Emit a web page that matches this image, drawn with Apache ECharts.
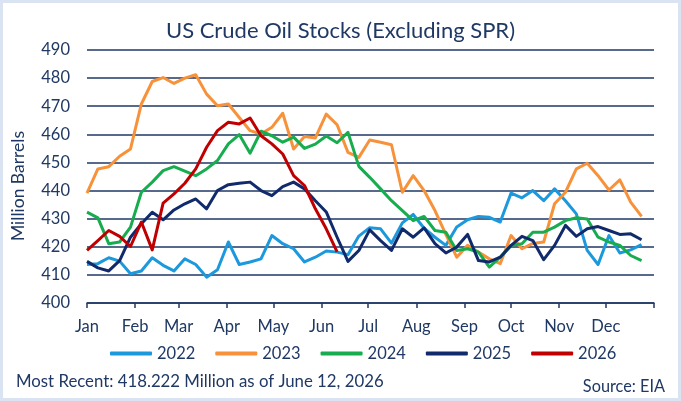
<!DOCTYPE html>
<html>
<head>
<meta charset="utf-8">
<script src="https://cdn.jsdelivr.net/npm/echarts@6/dist/echarts.min.js"></script>
<style>
  html, body { margin: 0; padding: 0; background: #fff; }
  #chart { width: 681px; height: 401px; }
</style>
</head>
<body>
<div id="chart"></div>
<script>
// ---------------------------------------------------------------------------
// Data (weekly stocks, million barrels, one point per week from Jan 1)
// ---------------------------------------------------------------------------
const monthStarts = [0, 31, 59, 90, 120, 151, 181, 212, 243, 273, 304, 334];
const monthLabels = ['Jan', 'Feb', 'Mar', 'Apr', 'May', 'Jun', 'Jul', 'Aug', 'Sep', 'Oct', 'Nov', 'Dec'];
const yTicks = [400, 410, 420, 430, 440, 450, 460, 470, 480, 490];

const years = ['2022', '2023', '2024', '2025', '2026'];

const s2022 = [413.7, 414.0, 416.1, 414.9, 410.4, 411.4, 416.1, 413.4, 411.4, 415.7,
  413.7, 409.2, 411.8, 421.7, 413.7, 414.6, 415.7, 424.0, 421.1, 419.3,
  414.6, 416.3, 418.5, 418.1, 417.2, 423.8, 426.8, 426.4, 421.3, 428.5,
  431.5, 426.6, 423.4, 420.5, 427.0, 429.6, 430.8, 430.5, 428.8, 439.1,
  437.4, 440.0, 436.4, 440.6, 436.4, 431.7, 418.7, 413.7, 424.0, 417.8,
  418.9, 420.8];
const s2023 = [439.1, 447.7, 448.5, 452.2, 454.8, 470.8, 478.8, 480.2, 478.1, 480.0,
  481.2, 474.3, 470.2, 470.8, 466.0, 461.3, 460.1, 462.5, 467.5, 454.8,
  459.2, 458.7, 467.2, 463.4, 453.6, 451.8, 458.0, 457.2, 456.3, 439.4,
  445.3, 440.0, 432.9, 424.4, 416.3, 420.5, 418.1, 415.7, 414.0, 424.0,
  419.3, 421.2, 421.7, 435.3, 439.4, 447.7, 449.7, 445.3, 440.2, 443.8,
  435.9, 430.8];
const s2024 = [432.3, 430.3, 421.1, 421.7, 427.0, 439.4, 443.0, 447.1, 448.5, 446.9,
  445.3, 447.7, 450.7, 456.6, 459.9, 453.3, 461.1, 459.5, 457.2, 459.0,
  455.0, 456.5, 459.4, 457.0, 460.7, 448.6, 444.7, 440.6, 436.4, 432.9,
  429.3, 430.8, 425.8, 425.2, 418.7, 419.3, 418.1, 412.8, 416.3, 420.5,
  421.1, 425.2, 425.2, 427.0, 429.3, 430.3, 429.9, 423.4, 421.7, 420.5,
  416.9, 415.1];
const s2025 = [414.8, 412.5, 411.4, 415.1, 423.4, 428.2, 432.3, 429.6, 433.1, 435.3,
  437.0, 433.5, 440.0, 442.1, 442.6, 443.0, 440.0, 438.2, 441.4, 443.0,
  440.6, 436.4, 432.4, 423.4, 414.8, 418.7, 426.0, 422.2, 418.7, 426.4,
  423.4, 426.7, 421.1, 417.8, 419.9, 424.4, 415.1, 414.6, 416.3, 420.5,
  423.7, 422.2, 415.4, 420.5, 427.6, 423.7, 426.4, 427.2, 425.8, 424.4,
  424.6, 422.5];
const s2026 = [418.7, 422.2, 425.8, 423.7, 420.1, 428.8, 418.9, 435.5, 438.8, 442.6,
  447.7, 455.4, 461.3, 464.3, 463.7, 465.8, 459.5, 456.6, 453.0, 445.3,
  441.8, 433.5, 426.4, 418.222];

const seriesValues = [s2022, s2023, s2024, s2025, s2026];
const colors = ['#1c98dc', '#f7923a', '#17ad4f', '#102a6c', '#c00000'];

// ---------------------------------------------------------------------------
// Chart
// ---------------------------------------------------------------------------
const navy = '#1f3864';
const font = 'Lato';
const chart = echarts.init(document.getElementById('chart'), null, { renderer: 'canvas' });

const option = {
  animation: false,
  backgroundColor: '#ffffff',
  color: colors,
  textStyle: { fontFamily: font, color: navy },
  grid: { left: 87, right: 27, top: 50, bottom: 98 },
  xAxis: {
    type: 'value',
    min: 0,
    max: 365,
    axisLine: { show: true, lineStyle: { color: navy, width: 1.5 } },
    axisTick: {
      show: true, length: 5, inside: false,
      customValues: monthStarts.concat([365]),
      lineStyle: { color: navy, width: 1.5 }
    },
    axisLabel: {
      customValues: monthStarts,
      formatter: function (v) { return monthLabels[monthStarts.indexOf(v)] || ''; },
      margin: 15, fontSize: 16.5, color: navy, fontFamily: font
    },
    splitLine: { show: false }
  },
  yAxis: {
    type: 'value',
    min: yTicks[0],
    max: yTicks[yTicks.length - 1],
    interval: 10,
    axisLine: { show: false },
    axisTick: { show: false },
    axisLabel: { margin: 17, fontSize: 16.5, color: navy, fontFamily: font },
    splitLine: { lineStyle: { color: navy, width: 1.5 } }
  },
  legend: {
    left: 105,
    top: 340,
    itemWidth: 42,
    itemHeight: 4,
    itemGap: 20,
    icon: 'roundRect',
    textStyle: { fontSize: 16.5, color: navy, fontFamily: font },
    data: years
  },
  series: years.map(function (y, k) {
    return {
      name: y,
      type: 'line',
      showSymbol: false,
      symbol: 'none',
      lineStyle: { width: 3, color: colors[k], join: 'round' },
      data: seriesValues[k].map(function (v, i) { return [i * 7, v]; })
    };
  }),
  graphic: [
    {
      type: 'rect', silent: true,
      shape: { x: 1.5, y: 1.5, width: 678, height: 398 },
      style: { fill: 'none', stroke: '#d9e3f1', lineWidth: 3 }
    },
    {
      type: 'text', left: 'center', top: 20,
      style: { text: 'US Crude Oil Stocks (Excluding SPR)', fill: navy, font: '22px ' + font }
    },
    {
      type: 'text', x: 18, y: 186, rotation: Math.PI / 2,
      style: { text: 'Million Barrels', fill: navy, font: '17.5px ' + font, align: 'center', verticalAlign: 'middle' }
    },
    {
      type: 'text', x: 16, y: 382,
      style: { text: 'Most Recent: 418.222 Million as of June 12, 2026', fill: navy, font: '16.8px ' + font, verticalAlign: 'middle' }
    },
    {
      type: 'text', x: 665, y: 387,
      style: { text: 'Source: EIA', fill: navy, font: '16.3px ' + font, align: 'right', verticalAlign: 'middle' }
    }
  ]
};

chart.setOption(option);
</script>
</body>
</html>
